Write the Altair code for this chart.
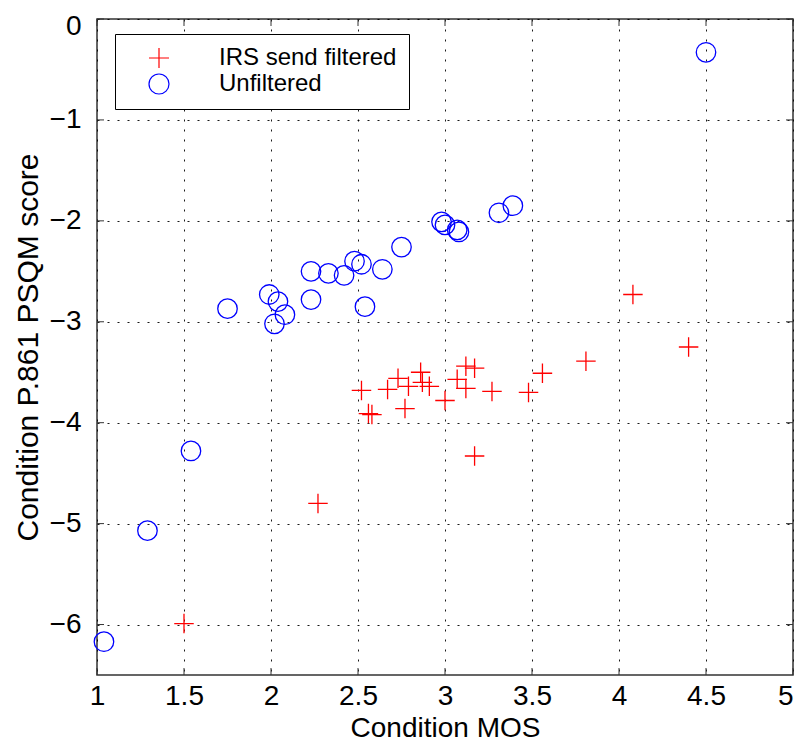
import altair as alt
import pandas as pd

# ---- data ----
series_names = ["IRS send filtered", "Unfiltered"]

mos_filtered = [2.52, 2.56, 2.58, 2.67, 2.73, 2.79, 2.77, 2.86, 2.87, 2.91,
                3.00, 3.07, 3.12, 3.12, 3.17, 3.17, 3.27, 3.48, 3.56, 3.81,
                4.08, 4.40, 2.27, 1.50]
psqm_filtered = [-3.68, -3.91, -3.92, -3.67, -3.56, -3.64, -3.86, -3.50, -3.60, -3.64,
                 -3.78, -3.57, -3.66, -3.44, -3.46, -4.33, -3.69, -3.70, -3.51, -3.39,
                 -2.73, -3.25, -4.80, -5.99]

mos_unfiltered = [1.75, 1.99, 2.04, 2.08, 2.02, 2.23, 2.23, 2.33, 2.42, 2.48,
                  2.52, 2.54, 2.64, 2.75, 2.98, 3.00, 3.07, 3.08, 3.31, 3.39,
                  4.50, 1.54, 1.29, 1.04]
psqm_unfiltered = [-2.87, -2.73, -2.80, -2.93, -3.02, -2.50, -2.78, -2.52, -2.54, -2.40,
                   -2.43, -2.85, -2.48, -2.26, -2.01, -2.04, -2.09, -2.11, -1.92, -1.85,
                   -0.33, -4.28, -5.07, -6.17]

x_ticks = [1, 1.5, 2, 2.5, 3, 3.5, 4, 4.5, 5]
y_ticks = [0, -1, -2, -3, -4, -5, -6]

df = pd.DataFrame({
    "mos": mos_filtered + mos_unfiltered,
    "psqm": psqm_filtered + psqm_unfiltered,
    "series": [series_names[0]] * len(mos_filtered) + [series_names[1]] * len(mos_unfiltered),
})
xt = pd.DataFrame({"v": x_ticks})
yt = pd.DataFrame({"v": y_ticks})

W, H = 696, 656
FONT = "Liberation Sans"
PLUS = "M-1,0H1M0,-1V1"

xscale = alt.Scale(domain=[1, 5], nice=False, zero=False)
yscale = alt.Scale(domain=[-6.5, 0], nice=False, zero=False)

xaxis = alt.Axis(values=x_ticks, format="~g", title="Condition MOS",
                 labelFlush=False, labelPadding=7,
                 labelAlign=alt.condition("datum.value == 5", alt.value("right"), alt.value("center")),
                 titleY=61.5, titleBaseline="alphabetic", titleFontSize=28)
yaxis = alt.Axis(values=y_ticks, format="~g", title="Condition P.861 PSQM score", titlePadding=6,
                 labelFlush=True, labelFlushOffset=7)

legend = alt.Legend(orient="none", legendX=18, legendY=15, title=None)

points = alt.Chart(df).mark_point(filled=False, strokeWidth=1.3, opacity=1).encode(
    x=alt.X("mos:Q", scale=xscale, axis=xaxis),
    y=alt.Y("psqm:Q", scale=yscale, axis=yaxis),
    color=alt.Color("series:N",
                    scale=alt.Scale(domain=series_names, range=["#ff0000", "#0000ff"]),
                    legend=legend),
    shape=alt.Shape("series:N",
                    scale=alt.Scale(domain=series_names, range=[PLUS, "circle"]),
                    legend=legend),
    size=alt.value(380),
)

tick_len = 7
tick_color = "#333333"
xt_bottom = alt.Chart(xt).mark_rule(color=tick_color, strokeWidth=1).encode(
    x=alt.X("v:Q", scale=xscale, axis=xaxis), y=alt.value(H), y2=alt.value(H - tick_len))
xt_top = alt.Chart(xt).mark_rule(color=tick_color, strokeWidth=1).encode(
    x=alt.X("v:Q", scale=xscale, axis=xaxis), y=alt.value(0), y2=alt.value(tick_len))
yt_left = alt.Chart(yt).mark_rule(color=tick_color, strokeWidth=1).encode(
    y=alt.Y("v:Q", scale=yscale, axis=yaxis), x=alt.value(0), x2=alt.value(tick_len))
yt_right = alt.Chart(yt).mark_rule(color=tick_color, strokeWidth=1).encode(
    y=alt.Y("v:Q", scale=yscale, axis=yaxis), x=alt.value(W), x2=alt.value(W - tick_len))

chart = alt.layer(points, xt_bottom, xt_top, yt_left, yt_right).properties(
    width=W, height=H,
    autosize=alt.AutoSizeParams(type="none"),
    padding={"left": 89, "top": 11, "right": 1, "bottom": 68},
).configure_view(
    stroke="#333333", strokeWidth=1.5
).configure_axis(
    grid=True, gridColor="#000000", gridDash=[2, 8], gridWidth=1, gridOpacity=0.9,
    domain=False, ticks=False,
    labelFont=FONT, labelFontSize=28, labelColor="#000000", labelPadding=16,
    titleFont=FONT, titleFontSize=30, titleFontWeight="normal", titleColor="#000000",
).configure_legend(
    strokeColor="#000000", strokeWidth=1, fillColor="#ffffff", padding=12,
    cornerRadius=0, labelFont=FONT, labelFontSize=24, labelColor="#000000", labelLimit=0,
    symbolSize=400, symbolStrokeWidth=1.2, symbolOffset=20, labelOffset=48,
    rowPadding=0, symbolFillColor="transparent"
)

chart.save("out.html", embed_options={"renderer": "svg", "actions": False})
